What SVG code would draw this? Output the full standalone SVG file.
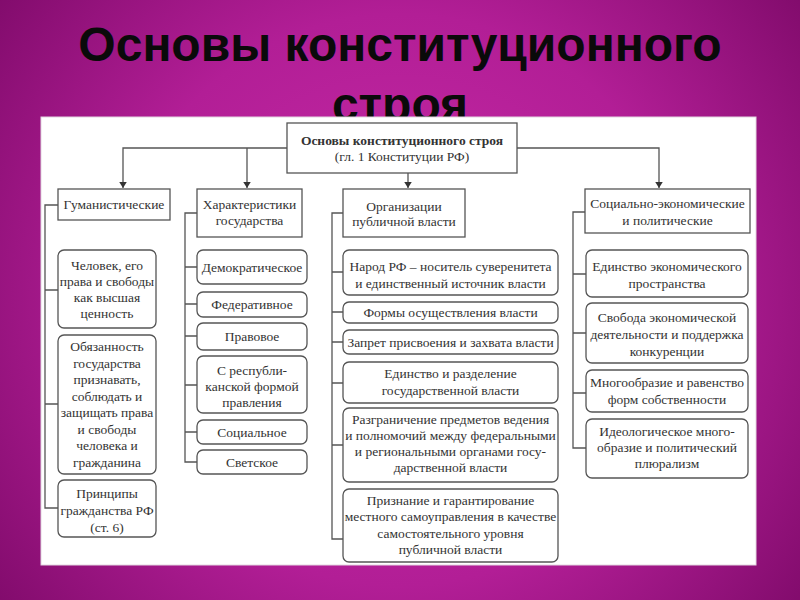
<svg xmlns="http://www.w3.org/2000/svg" width="800" height="600" viewBox="0 0 800 600">
<defs>
<radialGradient id="bg" cx="400" cy="300" r="520" gradientUnits="userSpaceOnUse">
<stop offset="0" stop-color="#C92BA8"/>
<stop offset="0.55" stop-color="#B21E96"/>
<stop offset="1" stop-color="#7E0A69"/>
</radialGradient>
<marker id="arr" viewBox="0 0 8 10" refX="8" refY="5" markerWidth="6" markerHeight="8" orient="auto" markerUnits="userSpaceOnUse">
<path d="M0,0 L8,5 L0,10 Z" fill="#333"/>
</marker>
<style>
.title{font-family:'Liberation Sans',Arial,sans-serif;font-weight:bold;font-size:48px;fill:#0a0a0a;text-anchor:middle}
.box{fill:#fff;stroke:#555;stroke-width:1.3}
.t{font-family:'Liberation Serif','DejaVu Serif',serif;font-size:13.5px;fill:#333;text-anchor:middle}
.b{font-weight:bold}
.ln{fill:none;stroke:#555;stroke-width:1.3}
</style>
</defs>
<rect width="800" height="600" fill="url(#bg)"/>
<text class="title" x="400" y="61">Основы конституционного</text>
<text class="title" x="400" y="121">строя</text>
<rect x="41" y="117" width="715" height="448" fill="#fff" stroke="#e2d6e0" stroke-width="1"/>

<g id="connectors">
<path class="ln" d="M287,148 H123 V188" marker-end="url(#arr)"/>
<path class="ln" d="M247,148 V188" marker-end="url(#arr)"/>
<path class="ln" d="M408,173 V188" marker-end="url(#arr)"/>
<path class="ln" d="M517,148 H659 V188" marker-end="url(#arr)"/>
<path class="ln" d="M58,205 H45 V508 H58 M45,290 H58 M45,404 H58"/>
<path class="ln" d="M197,213 H185 V462 H197 M185,267 H197 M185,304 H197 M185,336 H197 M185,385 H197 M185,432 H197"/>
<path class="ln" d="M343,213 H332 V539 H343 M332,272 H343 M332,312 H343 M332,342 H343 M332,383 H343 M332,445 H343"/>
<path class="ln" d="M585,212 H573 V448 H586 M573,274 H586 M573,333 H586 M573,393 H586"/>
</g>

<g font-family="'Liberation Serif', 'DejaVu Serif', serif">
<g id="root">
<rect class="box" x="287" y="123" width="230" height="50"/>
<text class="t b" x="402" y="145">Основы конституционного строя</text>
<text class="t" x="402" y="161">(гл. 1 Конституции РФ)</text>
</g>

<g id="gum">
<rect class="box" x="58" y="189" width="112" height="31"/>
<text class="t" x="114" y="209">Гуманистические</text>
</g>
<g id="gum1">
<rect class="box" x="58" y="250" width="98" height="78" rx="6"/>
<text class="t" x="107" y="270">Человек, его</text>
<text class="t" x="107" y="286">права и свободы</text>
<text class="t" x="107" y="302">как высшая</text>
<text class="t" x="107" y="318">ценность</text>
</g>
<g id="gum2">
<rect class="box" x="58" y="335" width="98" height="139" rx="6"/>
<text class="t" x="107" y="351">Обязанность</text>
<text class="t" x="107" y="367.5">государства</text>
<text class="t" x="107" y="384">признавать,</text>
<text class="t" x="107" y="400.5">соблюдать и</text>
<text class="t" x="107" y="417">защищать права</text>
<text class="t" x="107" y="433.5">и свободы</text>
<text class="t" x="107" y="450">человека и</text>
<text class="t" x="107" y="466.5">гражданина</text>
</g>
<g id="gum3">
<rect class="box" x="58" y="480" width="98" height="57" rx="6"/>
<text class="t" x="107" y="498">Принципы</text>
<text class="t" x="107" y="515">гражданства РФ</text>
<text class="t" x="107" y="532">(ст. 6)</text>
</g>

<g id="har">
<rect class="box" x="197" y="189" width="105" height="48"/>
<text class="t" x="249.5" y="209">Характеристики</text>
<text class="t" x="249.5" y="225">государства</text>
</g>
<g id="har1">
<rect class="box" x="197" y="250" width="110" height="34" rx="6"/>
<text class="t" x="252" y="271.5">Демократическое</text>
</g>
<g id="har2">
<rect class="box" x="197" y="292" width="110" height="25" rx="6"/>
<text class="t" x="252" y="309">Федеративное</text>
</g>
<g id="har3">
<rect class="box" x="197" y="323" width="110" height="27" rx="6"/>
<text class="t" x="252" y="341">Правовое</text>
</g>
<g id="har4">
<rect class="box" x="197" y="356" width="110" height="57" rx="6"/>
<text class="t" x="252" y="374.5">С республи-</text>
<text class="t" x="252" y="390.5">канской формой</text>
<text class="t" x="252" y="406.5">правления</text>
</g>
<g id="har5">
<rect class="box" x="197" y="420" width="110" height="24" rx="6"/>
<text class="t" x="252" y="436.5">Социальное</text>
</g>
<g id="har6">
<rect class="box" x="197" y="450" width="110" height="24" rx="6"/>
<text class="t" x="252" y="466.5">Светское</text>
</g>

<g id="org">
<rect class="box" x="343" y="189" width="122" height="48"/>
<text class="t" x="404" y="211">Организации</text>
<text class="t" x="404" y="226">публичной власти</text>
</g>
<g id="org1">
<rect class="box" x="343" y="250" width="215" height="45" rx="6"/>
<text class="t" x="450.5" y="271">Народ РФ – носитель суверенитета</text>
<text class="t" x="450.5" y="288">и единственный источник власти</text>
</g>
<g id="org2">
<rect class="box" x="343" y="302" width="215" height="21" rx="6"/>
<text class="t" x="450.5" y="317">Формы осуществления власти</text>
</g>
<g id="org3">
<rect class="box" x="343" y="330" width="215" height="24" rx="6"/>
<text class="t" x="450.5" y="346.5">Запрет присвоения и захвата власти</text>
</g>
<g id="org4">
<rect class="box" x="343" y="362" width="215" height="41" rx="6"/>
<text class="t" x="450.5" y="377.5">Единство и разделение</text>
<text class="t" x="450.5" y="394.5">государственной власти</text>
</g>
<g id="org5">
<rect class="box" x="343" y="408" width="215" height="74" rx="6"/>
<text class="t" x="450.5" y="423.5">Разграничение предметов ведения</text>
<text class="t" x="450.5" y="439.5">и полномочий между федеральными</text>
<text class="t" x="450.5" y="455.5">и региональными органами госу-</text>
<text class="t" x="450.5" y="471.5">дарственной власти</text>
</g>
<g id="org6">
<rect class="box" x="343" y="489" width="215" height="73" rx="6"/>
<text class="t" x="450.5" y="504.5">Признание и гарантирование</text>
<text class="t" x="450.5" y="521">местного самоуправления в качестве</text>
<text class="t" x="450.5" y="537.5">самостоятельного уровня</text>
<text class="t" x="450.5" y="554">публичной власти</text>
</g>

<g id="soc">
<rect class="box" x="585" y="189" width="165" height="44"/>
<text class="t" x="667.5" y="208">Социально-экономические</text>
<text class="t" x="667.5" y="225">и политические</text>
</g>
<g id="soc1">
<rect class="box" x="586" y="250" width="162" height="47" rx="6"/>
<text class="t" x="667" y="271">Единство экономического</text>
<text class="t" x="667" y="288">пространства</text>
</g>
<g id="soc2">
<rect class="box" x="586" y="303" width="162" height="60" rx="6"/>
<text class="t" x="667" y="322">Свобода экономической</text>
<text class="t" x="667" y="339">деятельности и поддержка</text>
<text class="t" x="667" y="356">конкуренции</text>
</g>
<g id="soc3">
<rect class="box" x="586" y="370" width="162" height="42" rx="6"/>
<text class="t" x="667" y="387">Многообразие и равенство</text>
<text class="t" x="667" y="404">форм собственности</text>
</g>
<g id="soc4">
<rect class="box" x="586" y="419" width="162" height="59" rx="6"/>
<text class="t" x="667" y="435.5">Идеологическое много-</text>
<text class="t" x="667" y="451.5">образие и политический</text>
<text class="t" x="667" y="467.5">плюрализм</text>
</g>
</g>
</svg>
